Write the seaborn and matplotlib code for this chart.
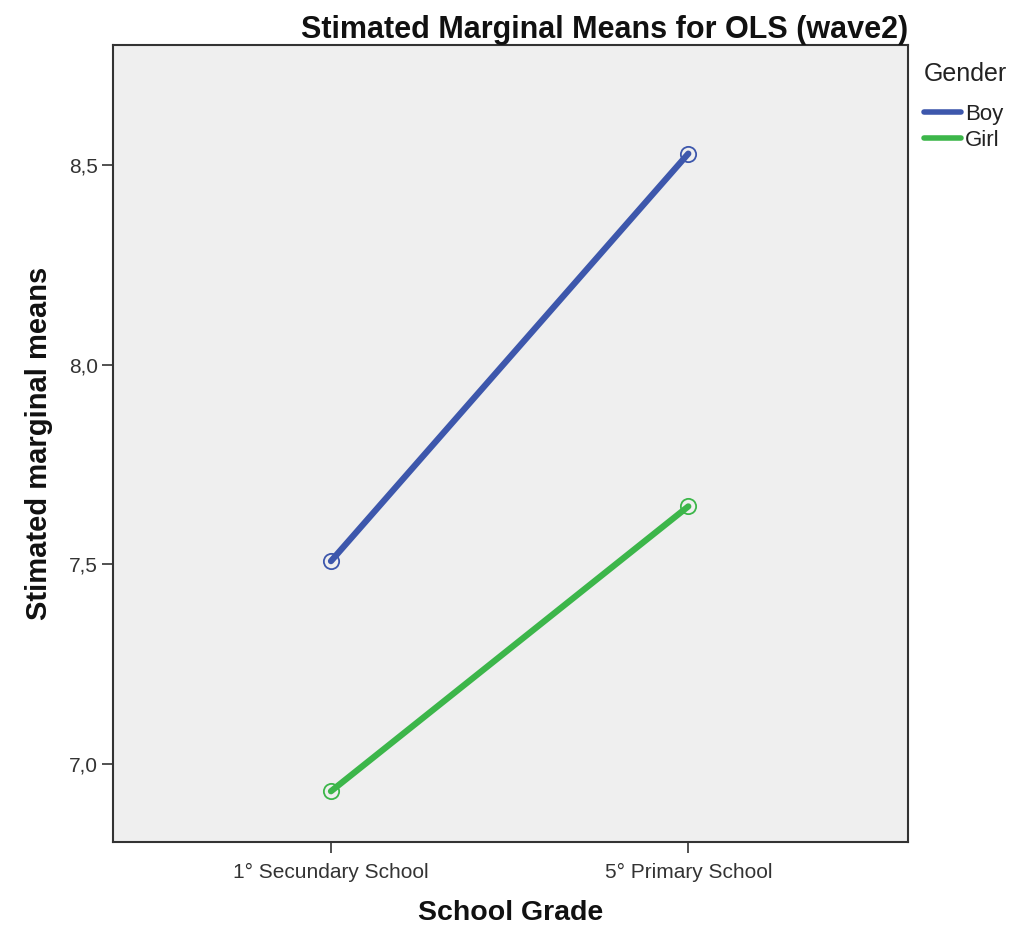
import matplotlib.pyplot as plt
import seaborn as sns
import pandas as pd
from matplotlib.lines import Line2D

# values
grades = ['1° Secundary School', '5° Primary School']
boy_means = [7.508, 8.528]
girl_means = [6.932, 7.645]
genders = ['Boy', 'Girl']
colors = ['#3D57AC', '#3CB64A']

df = pd.DataFrame({
    'grade': grades * 2,
    'mean': boy_means + girl_means,
    'gender': ['Boy'] * 2 + ['Girl'] * 2,
})

sns.set_theme(style='white')
plt.rcParams['font.family'] = ['Liberation Sans', 'DejaVu Sans']

fig = plt.figure(figsize=(10.3, 9.31), dpi=100)
ax = fig.add_axes([0.1097, 0.0956, 0.7719, 0.8561])
ax.set_facecolor('#EFEFEF')

sns.lineplot(data=df, x='grade', y='mean', hue='gender', palette=colors,
             marker='o', markersize=11, markerfacecolor='none',
             linewidth=4.5, legend=False, ax=ax)
for ln in ax.lines:
    ln.set_markeredgecolor(ln.get_color())
    ln.set_markeredgewidth(1.3)

ax.set_xlim(-0.61, 1.615)
ax.set_ylim(6.805, 8.8)
ax.set_yticks([7.0, 7.5, 8.0, 8.5])
ax.set_yticklabels(['7,0', '7,5', '8,0', '8,5'])
ax.tick_params(axis='both', direction='out', length=8, width=1.2, color='#333333',
               labelsize=15, labelcolor='#333333', bottom=True, left=True)
ax.tick_params(axis='x', pad=7)
ax.tick_params(axis='y', pad=3)

for s in ax.spines.values():
    s.set_color('#333333')
    s.set_linewidth(1.5)

ax.set_xlabel('School Grade', fontsize=20.5, fontweight='bold', labelpad=13,
              color='#111111')
ax.set_ylabel('Stimated marginal means', fontsize=21, fontweight='bold', labelpad=11,
              color='#111111')
ax.set_title('Stimated Marginal Means for OLS (wave2)', fontsize=22,
             fontweight='bold', loc='right', pad=5, color='#111111')

handles = [Line2D([], [], color=c, linewidth=4) for c in colors]
leg = ax.legend(handles, genders, title='Gender', loc='upper left',
                bbox_to_anchor=(1.0, 0.998), frameon=False, fontsize=16,
                title_fontsize=18, handlelength=1.7, handletextpad=0.15,
                labelspacing=0.2, alignment='left', borderpad=0.2)
leg._legend_box.sep = 13
for t in leg.get_texts():
    t.set_color('#222222')
leg.get_title().set_color('#222222')

fig.savefig('out.png', dpi=100)
